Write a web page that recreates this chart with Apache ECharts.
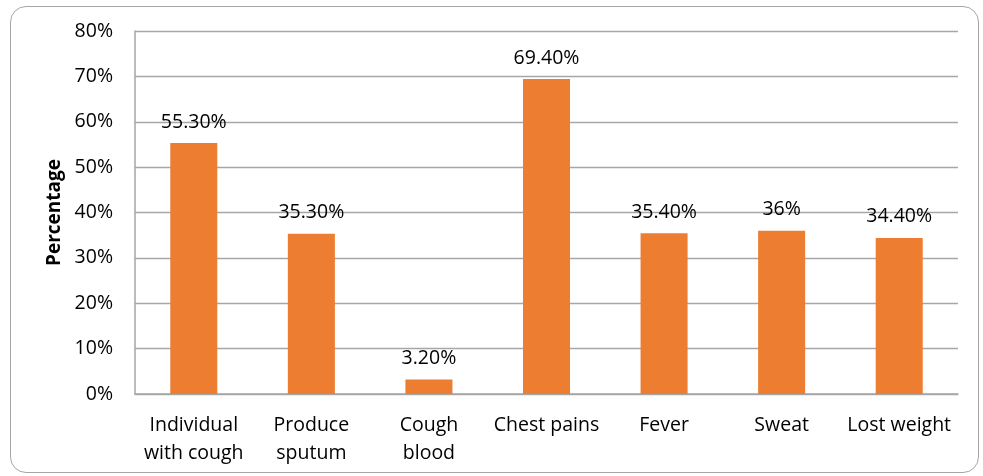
<!DOCTYPE html>
<html><head><meta charset="utf-8">
<script src="https://cdn.jsdelivr.net/npm/echarts@6/dist/echarts.min.js"></script>
<style>html,body{margin:0;padding:0;background:#fff}
#frame{position:absolute;left:10px;top:6px;width:969px;height:467px;border:1.5px solid #a6a6a6;border-radius:16px;box-sizing:border-box}
#c{position:absolute;left:0;top:0;width:983px;height:476px}</style>
</head><body>
<div id="frame"></div>
<div id="c"></div>
<script>
const categories = ["Individual\nwith cough", "Produce\nsputum", "Cough\nblood", "Chest pains", "Fever", "Sweat", "Lost weight"];
const values = [55.3, 35.3, 3.2, 69.4, 35.4, 36, 34.4];
const labels = ["55.30%", "35.30%", "3.20%", "69.40%", "35.40%", "36%", "34.40%"];
const yTicks = [0, 10, 20, 30, 40, 50, 60, 70, 80];
const ff = "'Open Sans', sans-serif";
const chart = echarts.init(document.getElementById('c'), null, {renderer: 'canvas'});
chart.setOption({
  animation: false,
  grid: {left: 135, right: 25, top: 31, bottom: 82},
  xAxis: {
    type: 'category', data: categories,
    axisLine: {lineStyle: {color: '#a6a6a6', width: 1.5}},
    axisTick: {show: false},
    axisLabel: {color: '#000', fontFamily: ff, fontSize: 19.5, lineHeight: 28, margin: 17, interval: 0}
  },
  yAxis: {
    type: 'value', min: yTicks[0], max: yTicks[yTicks.length - 1], interval: 10,
    name: 'Percentage', nameLocation: 'middle', nameGap: 70, nameRotate: 90,
    nameTextStyle: {color: '#000', fontFamily: ff, fontSize: 19, fontWeight: 'bold'},
    axisLine: {show: true, lineStyle: {color: '#a6a6a6', width: 1.5}},
    axisTick: {show: false},
    splitLine: {lineStyle: {color: '#a6a6a6', width: 1.3}},
    axisLabel: {color: '#000', fontFamily: ff, fontSize: 19.5, margin: 22, formatter: v => v + '%'}
  },
  series: [{
    type: 'bar', data: values, barWidth: '40%',
    itemStyle: {color: '#ed7d31'},
    label: {show: true, position: 'top', distance: 11, color: '#000', fontFamily: ff, fontSize: 19.5,
      formatter: p => labels[p.dataIndex]}
  }]
});
</script>
</body></html>
